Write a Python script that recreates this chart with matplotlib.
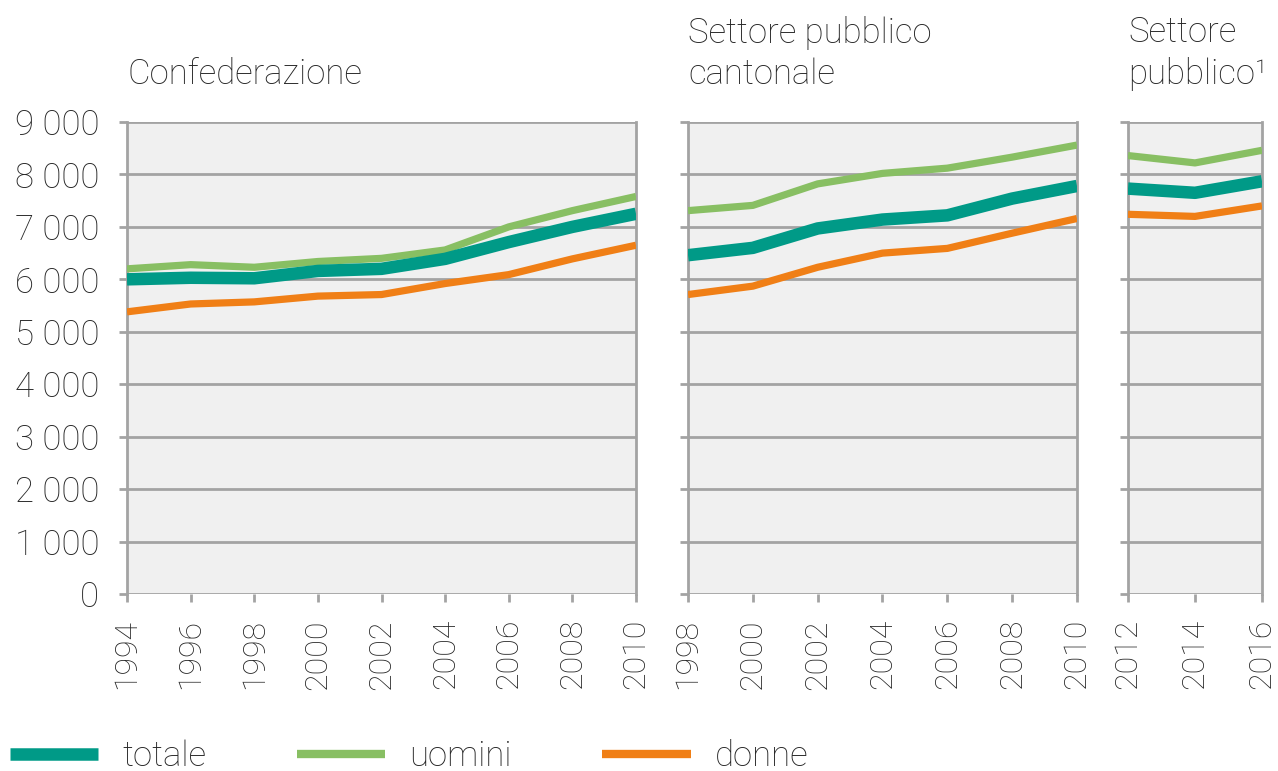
import numpy as np
import matplotlib.pyplot as plt
from matplotlib.lines import Line2D
from matplotlib.ticker import FuncFormatter

plt.rcParams['font.family'] = ['Roboto', 'DejaVu Sans']
plt.rcParams['font.weight'] = 'light'

# Confederazione
years_conf = [1994, 1996, 1998, 2000, 2002, 2004, 2006, 2008, 2010]
totale_conf = [6000, 6030, 6020, 6160, 6200, 6390, 6710, 7000, 7250]
uomini_conf = [6200, 6280, 6230, 6340, 6400, 6560, 7000, 7310, 7580]
donne_conf = [5380, 5530, 5570, 5680, 5710, 5920, 6090, 6390, 6650]

# Settore pubblico cantonale
years_cant = [1998, 2000, 2002, 2004, 2006, 2008, 2010]
totale_cant = [6460, 6600, 6970, 7140, 7220, 7540, 7780]
uomini_cant = [7310, 7410, 7820, 8020, 8120, 8330, 8560]
donne_cant = [5710, 5870, 6230, 6500, 6590, 6880, 7160]

# Settore pubblico
years_pub = [2012, 2014, 2016]
totale_pub = [7730, 7650, 7870]
uomini_pub = [8360, 8220, 8460]
donne_pub = [7240, 7200, 7400]

titles = ['Confederazione', 'Settore pubblico\ncantonale', 'Settore\npubblico\u00b9']

c_tot = '#009a87'
c_uom = '#88bf63'
c_don = '#f07f16'
grid_c = '#a3a3a3'
txt_c = '#262626'

W, H = 1278, 771
fig = plt.figure(figsize=(W / 100, H / 100), dpi=100)

# panel extents in pixels (left, right)
panels = [(127, 636), (688, 1077), (1128, 1262)]
top_px, bot_px = 122, 594

data = [
    (years_conf, totale_conf, uomini_conf, donne_conf),
    (years_cant, totale_cant, uomini_cant, donne_cant),
    (years_pub, totale_pub, uomini_pub, donne_pub),
]

for i, ((l, r), (yrs, tot, uom, don), title) in enumerate(zip(panels, data, titles)):
    ax = fig.add_axes([l / W, 1 - bot_px / H, (r - l) / W, (bot_px - top_px) / H])
    ax.set_facecolor('#f0f0f0')
    ax.plot(yrs, uom, color=c_uom, lw=5.2, solid_capstyle='butt', zorder=3)
    ax.plot(yrs, don, color=c_don, lw=5.2, solid_capstyle='butt', zorder=3)
    ax.plot(yrs, tot, color=c_tot, lw=9, solid_capstyle='butt', zorder=4)
    ax.set_xlim(yrs[0], yrs[-1])
    ax.set_ylim(0, 9000)
    ax.set_xticks(yrs)
    ax.set_xticklabels([str(y) for y in yrs], rotation=90, fontsize=23, color=txt_c)
    ax.set_yticks(np.arange(0, 9001, 1000))
    ax.yaxis.set_major_formatter(FuncFormatter(lambda v, p: '{:,.0f}'.format(v).replace(',', ' ')))
    ax.grid(axis='y', color=grid_c, lw=2, zorder=1)
    ax.set_axisbelow(True)
    for s in ['top', 'bottom']:
        ax.spines[s].set_visible(False)
    for s in ['left', 'right']:
        ax.spines[s].set_color(grid_c)
        ax.spines[s].set_linewidth(2)
    ax.tick_params(axis='both', color=grid_c, width=2, length=6, labelcolor=txt_c)
    ax.tick_params(axis='y', labelsize=25, pad=14)
    ax.tick_params(axis='x', pad=12)
    if i > 0:
        ax.tick_params(axis='y', labelleft=False)
    ax.text(0.0, 1.066, title, transform=ax.transAxes, fontsize=25, color=txt_c,
            ha='left', va='bottom', linespacing=1.28)

# legend
handles = [
    Line2D([], [], color=c_tot, lw=9, solid_capstyle='butt'),
    Line2D([], [], color=c_uom, lw=6, solid_capstyle='butt'),
    Line2D([], [], color=c_don, lw=6, solid_capstyle='butt'),
]
fig.legend(handles, ['totale', 'uomini', 'donne'], loc='lower left',
           bbox_to_anchor=(0.002, -0.012), ncol=3, frameon=False, fontsize=25,
           handlelength=2.55, handletextpad=0.7, columnspacing=2.6,
           borderpad=0.2, borderaxespad=0, labelcolor=txt_c)

fig.savefig('out.png', dpi=100)
